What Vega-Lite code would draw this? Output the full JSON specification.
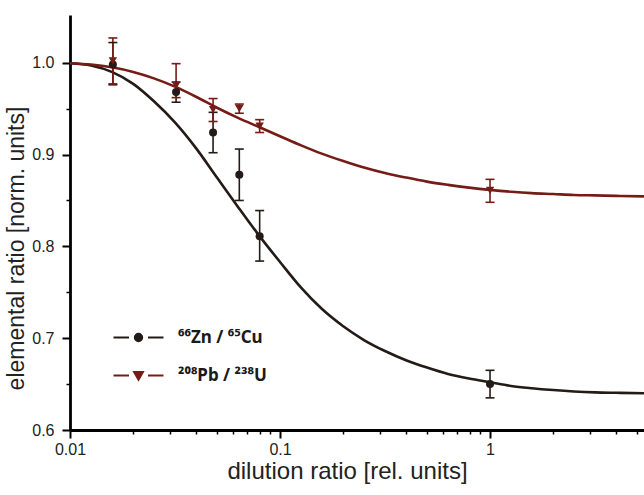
{
  "$schema": "https://vega.github.io/schema/vega-lite/v6.json",
  "width": 574,
  "height": 415,
  "autosize": {"type": "none"},
  "padding": {"left": 70, "top": 15, "right": 0, "bottom": 65},
  "background": "white",
  "config": {"view": {"stroke": null}, "font": "Liberation Sans", "axis": {"grid": false}},
  "datasets": {
    "curves": [
      {"series": "Zn", "x": 0.01, "y": 0.9995},
      {"series": "Zn", "x": 0.0126, "y": 0.997},
      {"series": "Zn", "x": 0.0158, "y": 0.990},
      {"series": "Zn", "x": 0.02, "y": 0.977},
      {"series": "Zn", "x": 0.0251, "y": 0.958},
      {"series": "Zn", "x": 0.0316, "y": 0.935},
      {"series": "Zn", "x": 0.0398, "y": 0.907},
      {"series": "Zn", "x": 0.0501, "y": 0.875},
      {"series": "Zn", "x": 0.0631, "y": 0.843},
      {"series": "Zn", "x": 0.0794, "y": 0.812},
      {"series": "Zn", "x": 0.1, "y": 0.783},
      {"series": "Zn", "x": 0.126, "y": 0.755},
      {"series": "Zn", "x": 0.158, "y": 0.732},
      {"series": "Zn", "x": 0.2, "y": 0.713},
      {"series": "Zn", "x": 0.251, "y": 0.698},
      {"series": "Zn", "x": 0.316, "y": 0.686},
      {"series": "Zn", "x": 0.398, "y": 0.676},
      {"series": "Zn", "x": 0.501, "y": 0.668},
      {"series": "Zn", "x": 0.631, "y": 0.661},
      {"series": "Zn", "x": 0.794, "y": 0.656},
      {"series": "Zn", "x": 1.0, "y": 0.652},
      {"series": "Zn", "x": 1.26, "y": 0.648},
      {"series": "Zn", "x": 1.58, "y": 0.6455},
      {"series": "Zn", "x": 2.0, "y": 0.6435},
      {"series": "Zn", "x": 2.51, "y": 0.642},
      {"series": "Zn", "x": 3.16, "y": 0.641},
      {"series": "Zn", "x": 3.98, "y": 0.6405},
      {"series": "Zn", "x": 5.41, "y": 0.640},
      {"series": "Pb", "x": 0.01, "y": 0.9995},
      {"series": "Pb", "x": 0.0126, "y": 0.998},
      {"series": "Pb", "x": 0.0158, "y": 0.995},
      {"series": "Pb", "x": 0.02, "y": 0.990},
      {"series": "Pb", "x": 0.0251, "y": 0.983},
      {"series": "Pb", "x": 0.0316, "y": 0.974},
      {"series": "Pb", "x": 0.0398, "y": 0.963},
      {"series": "Pb", "x": 0.0501, "y": 0.951},
      {"series": "Pb", "x": 0.0631, "y": 0.940},
      {"series": "Pb", "x": 0.0794, "y": 0.930},
      {"series": "Pb", "x": 0.1, "y": 0.920},
      {"series": "Pb", "x": 0.126, "y": 0.910},
      {"series": "Pb", "x": 0.158, "y": 0.901},
      {"series": "Pb", "x": 0.2, "y": 0.893},
      {"series": "Pb", "x": 0.251, "y": 0.886},
      {"series": "Pb", "x": 0.316, "y": 0.880},
      {"series": "Pb", "x": 0.398, "y": 0.875},
      {"series": "Pb", "x": 0.501, "y": 0.8705},
      {"series": "Pb", "x": 0.631, "y": 0.867},
      {"series": "Pb", "x": 0.794, "y": 0.864},
      {"series": "Pb", "x": 1.0, "y": 0.8615},
      {"series": "Pb", "x": 1.26, "y": 0.8595},
      {"series": "Pb", "x": 1.58, "y": 0.858},
      {"series": "Pb", "x": 2.0, "y": 0.857},
      {"series": "Pb", "x": 2.51, "y": 0.856},
      {"series": "Pb", "x": 3.16, "y": 0.8555},
      {"series": "Pb", "x": 3.98, "y": 0.855},
      {"series": "Pb", "x": 5.41, "y": 0.8545}
    ],
    "points": [
      {"series": "Zn", "x": 0.016, "y": 0.998, "lo": 0.976, "hi": 1.022},
      {"series": "Zn", "x": 0.032, "y": 0.968, "lo": 0.957, "hi": 0.979},
      {"series": "Zn", "x": 0.048, "y": 0.924, "lo": 0.902, "hi": 0.946},
      {"series": "Zn", "x": 0.064, "y": 0.878, "lo": 0.850, "hi": 0.906},
      {"series": "Zn", "x": 0.08, "y": 0.811, "lo": 0.784, "hi": 0.839},
      {"series": "Zn", "x": 1.0, "y": 0.650, "lo": 0.635, "hi": 0.665},
      {"series": "Pb", "x": 0.016, "y": 1.002, "lo": 0.977, "hi": 1.027},
      {"series": "Pb", "x": 0.032, "y": 0.975, "lo": 0.962, "hi": 0.999},
      {"series": "Pb", "x": 0.048, "y": 0.949, "lo": 0.936, "hi": 0.961},
      {"series": "Pb", "x": 0.064, "y": 0.950, "lo": 0.945, "hi": 0.955},
      {"series": "Pb", "x": 0.08, "y": 0.931, "lo": 0.924, "hi": 0.938},
      {"series": "Pb", "x": 1.0, "y": 0.861, "lo": 0.848, "hi": 0.873}
    ]
  },
  "resolve": {"axis": {"x": "independent", "y": "independent"}},
  "layer": [
    {
      "mark": {"type": "rule", "strokeDash": [7, 4], "strokeWidth": 2.5, "color": "#111111"},
      "encoding": {
        "y": {"datum": 1.0, "type": "quantitative", "scale": {"domain": [0.6, 1.052], "nice": false, "zero": false}, "axis": null}
      }
    },
    {
      "data": {"name": "curves"},
      "mark": {"type": "line", "strokeWidth": 2.6, "interpolate": "monotone"},
      "encoding": {
        "x": {"field": "x", "type": "quantitative",
          "scale": {"type": "log", "domain": [0.01, 5.41], "nice": false},
          "axis": {"orient": "bottom", "values": [0.01, 0.1, 1], "format": "~g", "labelFlush": false, "labelOverlap": false,
            "tickSize": 8, "tickWidth": 2, "tickColor": "#000000", "domainColor": "#000000", "domainWidth": 2.8,
            "labelFontSize": 16, "labelColor": "#222222", "labelPadding": 3,
            "title": "dilution ratio [rel. units]", "titleFontSize": 24, "titleFontWeight": "normal", "titleColor": "#222222", "titlePadding": 2, "titleX": 277}},
        "y": {"field": "y", "type": "quantitative",
          "scale": {"domain": [0.6, 1.052], "nice": false, "zero": false},
          "axis": {"orient": "left", "values": [0.6, 0.7, 0.8, 0.9, 1.0], "format": ".1f",
            "tickSize": 8, "tickWidth": 2, "tickColor": "#000000", "domainColor": "#000000", "domainWidth": 2.8,
            "labelFontSize": 16, "labelColor": "#222222", "labelPadding": 8,
            "title": "elemental ratio [norm. units]", "titleFontSize": 23, "titleFontWeight": "normal", "titleColor": "#222222", "titlePadding": 3, "titleY": 233}},
        "color": {"field": "series", "type": "nominal",
          "scale": {"domain": ["Zn", "Pb"], "range": ["#241b17", "#761c16"]},
          "legend": {"orient": "none", "legendX": 50, "legendY": 304, "title": null, "padding": 0, "offset": 0,
            "symbolSize": 1156, "symbolStrokeWidth": 2.2, "symbolOpacity": 1, "labelOffset": 21, "rowPadding": 11,
            "symbolType": {"expr": "datum.value == 'Zn' ? 'M-1.47,0H-0.56M0.56,0H1.47M0.21,0A0.21,0.21 0 1,1 -0.21,0A0.21,0.21 0 1,1 0.21,0Z' : 'M-1.47,0H-0.56M0.56,0H1.47M-0.25,-0.2L0.25,-0.2L0,0.24Z'"},
            "labelFont": "Noto Sans", "labelFontSize": 17, "labelFontWeight": "bold", "labelColor": "#1a1a1a", "labelLimit": 300,
            "labelExpr": "datum.value == 'Zn' ? '⁶⁶Zn / ⁶⁵Cu' : '²⁰⁸Pb / ²³⁸U'"}
        }
      }
    },
    {
      "data": {"name": "points"},
      "mark": {"type": "rule", "strokeWidth": 1.6, "opacity": 1},
      "encoding": {
        "x": {"field": "x", "type": "quantitative", "scale": {"type": "log", "domain": [0.01, 5.41], "nice": false},
          "axis": {"orient": "bottom", "values": [0.02, 0.03, 0.04, 0.05, 0.06, 0.07, 0.08, 0.09, 0.2, 0.3, 0.4, 0.5, 0.6, 0.7, 0.8, 0.9, 2, 3, 4, 5],
            "labels": false, "domain": false, "tickSize": 4, "tickWidth": 1.5, "tickColor": "#000000", "title": null}},
        "y": {"field": "lo", "type": "quantitative", "scale": {"domain": [0.6, 1.052], "nice": false, "zero": false},
          "axis": {"orient": "left", "values": [0.65, 0.75, 0.85, 0.95], "labels": false, "domain": false, "tickSize": 4, "tickWidth": 1.5, "tickColor": "#000000", "title": null}},
        "y2": {"field": "hi"},
        "color": {"field": "series", "type": "nominal"}
      }
    },
    {
      "data": {"name": "points"},
      "mark": {"type": "tick", "orient": "horizontal", "size": 9, "thickness": 1.6, "opacity": 1},
      "encoding": {
        "x": {"field": "x", "type": "quantitative", "axis": null},
        "y": {"field": "lo", "type": "quantitative", "axis": null},
        "color": {"field": "series", "type": "nominal"}
      }
    },
    {
      "data": {"name": "points"},
      "mark": {"type": "tick", "orient": "horizontal", "size": 9, "thickness": 1.6, "opacity": 1},
      "encoding": {
        "x": {"field": "x", "type": "quantitative", "axis": null},
        "y": {"field": "hi", "type": "quantitative", "axis": null},
        "color": {"field": "series", "type": "nominal"}
      }
    },
    {
      "data": {"name": "points"},
      "transform": [{"filter": "datum.series == 'Zn'"}],
      "mark": {"type": "point", "filled": true, "size": 65, "opacity": 1, "shape": "circle"},
      "encoding": {
        "x": {"field": "x", "type": "quantitative", "axis": null},
        "y": {"field": "y", "type": "quantitative", "axis": null},
        "color": {"field": "series", "type": "nominal"}
      }
    },
    {
      "data": {"name": "points"},
      "transform": [{"filter": "datum.series == 'Pb'"}],
      "mark": {"type": "point", "filled": true, "size": 70, "opacity": 1, "shape": "triangle-down"},
      "encoding": {
        "x": {"field": "x", "type": "quantitative", "axis": null},
        "y": {"field": "y", "type": "quantitative", "axis": null},
        "color": {"field": "series", "type": "nominal"}
      }
    }
  ]
}
